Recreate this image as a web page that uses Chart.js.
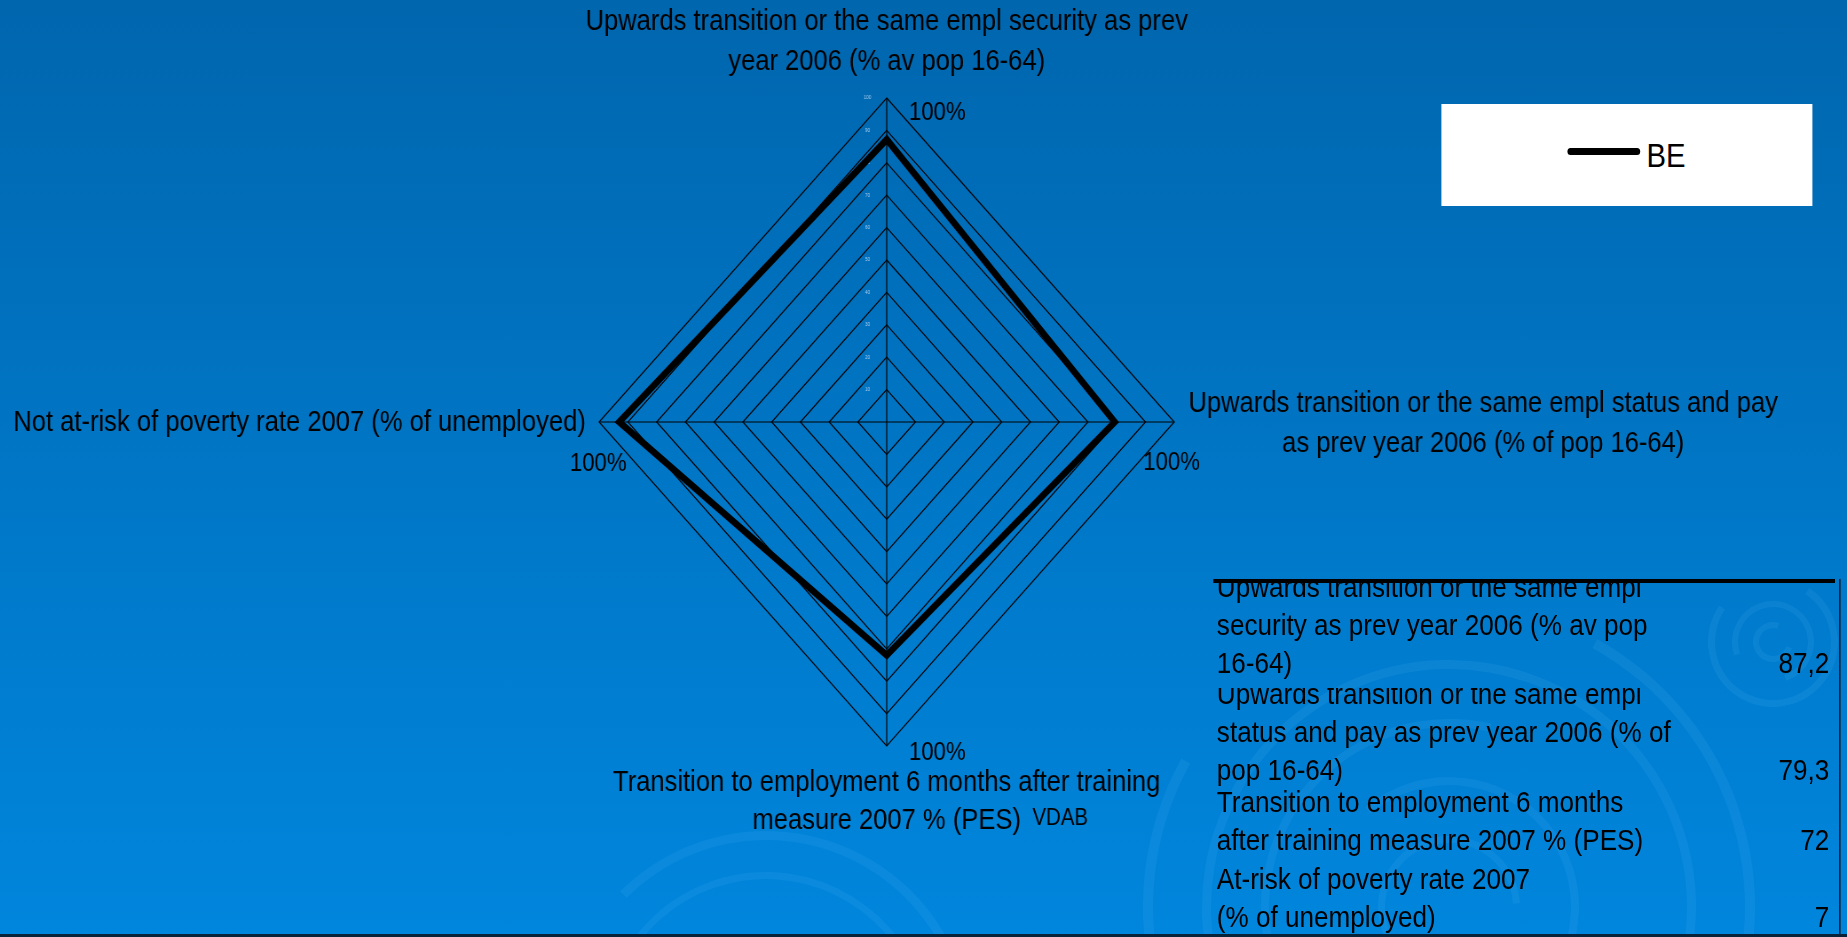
<!DOCTYPE html>
<html>
<head>
<meta charset="utf-8">
<script src="https://cdn.jsdelivr.net/npm/chart.js@4.4.1/dist/chart.umd.min.js"></script>
<style>
html, body { margin: 0; padding: 0; width: 1847px; height: 937px; overflow: hidden; }
body { background: linear-gradient(#0066ae, #0086dd); position: relative; }
.ring { position: absolute; border-radius: 50%; border-style: solid; border-color: rgba(110, 190, 255, 0.10); box-sizing: border-box; }
/* the whole slide is squeezed sideways, like the original picture */
#stage { position: absolute; left: 0; top: 0; width: 2081px; height: 937px;
  transform: scaleX(0.88756); transform-origin: 0 0;
  font-family: 'Liberation Sans', Arial, sans-serif; color: #000; }
#radar { position: absolute; left: 0; top: 0; }
#legend { position: absolute; left: 1624px; top: 104px; width: 418px; height: 102px; background: #fff; }
#legend .swatch { position: absolute; left: 142px; top: 44px; width: 82px; height: 7px; border-radius: 4px; background: #000; }
#legend .name { position: absolute; left: 231px; top: 35px; font-size: 33px; line-height: 1; }
#sep { position: absolute; left: 1367px; top: 579px; width: 701px; height: 4px; background: #000; }
#edge { position: absolute; left: 2072px; top: 579px; width: 2px; height: 356px; background: #0b2338; }
.row { position: absolute; left: 1371px; width: 690px; overflow: hidden; font-size: 29.4px; line-height: 38px; white-space: nowrap; }
.row .txt { position: absolute; left: 0; bottom: 0; }
.row .val { position: absolute; right: 0; bottom: 0; }
#bottomline { position: absolute; left: 0; bottom: 0; width: 1847px; height: 3px; background: #0b2338; }
</style>
</head>
<body>
<div id="deco"></div>
<div id="stage">
  <canvas id="radar" width="2081" height="937"></canvas>
  <div id="legend"><div class="swatch"></div><div class="name" id="legendName"></div></div>
  <div id="sep"></div>
  <div id="edge"></div>
  <div id="table"></div>
</div>
<div id="bottomline"></div>
<script>
const categories = [
    ['Upwards transition or the same empl security as prev', 'year 2006 (% av pop 16-64)'],
    ['Upwards transition or the same empl status and pay', 'as prev year 2006 (% of pop 16-64)'],
    ['Transition to employment 6 months after training', 'measure 2007 % (PES)'],
    ['Not at-risk of poverty rate 2007 (% of unemployed)']
];
const seriesName = 'BE';
const beValues = [87.2, 79.3, 72, 93];
const axisMaxLabel = '100%';
const sourceNote = 'VDAB';

const tableLabels = [
    ['Upwards transition or the same empl', 'security as prev year 2006 (% av pop', '16-64)'],
    ['Upwards transition or the same empl', 'status and pay as prev year 2006 (% of', 'pop 16-64)'],
    ['Transition to employment 6 months', 'after training measure 2007 % (PES)'],
    ['At-risk of poverty rate 2007', '(% of unemployed)']
];
const tableValues = ['87,2', '79,3', '72', '7'];

// faint swirl rings of the slide background: centre x, centre y, radius, width
const rings = [
    [766, 1037, 206, 9], [766, 1037, 165, 7],
    [1449, 907, 306, 10], [1449, 907, 247, 9], [1449, 907, 188, 8], [1449, 907, 130, 8], [1449, 907, 71, 7],
    [1773, 642, 65, 7], [1773, 642, 41, 6], [1773, 642, 20, 6]
];
const deco = document.getElementById('deco');
rings.forEach(([cx, cy, rad, bw], i) => {
    const d = document.createElement('div');
    d.className = 'ring';
    d.style.left = (cx - rad) + 'px';
    d.style.top = (cy - rad) + 'px';
    d.style.width = d.style.height = (2 * rad) + 'px';
    d.style.borderWidth = bw + 'px';
    if (i % 2) d.style.borderRightColor = 'transparent';
    else d.style.borderLeftColor = 'transparent';
    d.style.transform = 'rotate(' + (i * 37) + 'deg)';
    deco.appendChild(d);
});

// table rows: top and bottom of each clipped cell
const rowBoxes = [[582, 682], [688, 789], [789, 859], [859, 936]];
const table = document.getElementById('table');
tableLabels.forEach((lines, i) => {
    const row = document.createElement('div');
    row.className = 'row';
    row.style.top = rowBoxes[i][0] + 'px';
    row.style.height = (rowBoxes[i][1] - rowBoxes[i][0]) + 'px';
    const txt = document.createElement('div');
    txt.className = 'txt';
    txt.innerHTML = lines.join('<br>');
    const val = document.createElement('div');
    val.className = 'val';
    val.textContent = tableValues[i];
    row.appendChild(txt);
    row.appendChild(val);
    table.appendChild(row);
});
document.getElementById('legendName').textContent = seriesName;

const FONT = '"Liberation Sans", Arial, sans-serif';

// category titles and the 100% marks, placed from the scale's own vertices
const axisText = {
    id: 'axisText',
    afterDraw(chart) {
        const ctx = chart.ctx;
        const r = chart.scales.r;
        const labels = chart.data.labels;
        ctx.save();
        ctx.fillStyle = '#000';
        ctx.textBaseline = 'alphabetic';
        ctx.font = '28.8px ' + FONT;

        let p = r.getPointPosition(0, r.drawingArea);
        ctx.textAlign = 'center';
        labels[0].forEach((s, k) => ctx.fillText(s, p.x, p.y - 68 + k * 40));

        p = r.getPointPosition(1, r.drawingArea);
        const w1 = Math.max(...labels[1].map(s => ctx.measureText(s).width));
        labels[1].forEach((s, k) => ctx.fillText(s, p.x + 16 + w1 / 2, p.y - 10 + k * 40));

        p = r.getPointPosition(2, r.drawingArea);
        labels[2].forEach((s, k) => ctx.fillText(s, p.x, p.y + 45 + k * 38));
        const w2 = ctx.measureText(labels[2][1]).width;
        ctx.textAlign = 'left';
        ctx.font = '23px ' + FONT;
        ctx.fillText(sourceNote, p.x + w2 / 2 + 13, p.y + 79);

        p = r.getPointPosition(3, r.drawingArea);
        ctx.font = '28.8px ' + FONT;
        ctx.textAlign = 'right';
        ctx.fillText(labels[3][0], p.x - 15, p.y + 9);

        ctx.font = '25px ' + FONT;
        ctx.textAlign = 'left';
        const offs = [[25, 22], [-35, 48], [25, 14], [-33, 49]];
        offs.forEach((o, i) => {
            const q = r.getPointPosition(i, r.drawingArea);
            ctx.fillText(axisMaxLabel, q.x + o[0], q.y + o[1]);
        });
        ctx.restore();
    }
};

new Chart(document.getElementById('radar'), {
    type: 'radar',
    data: {
        labels: categories,
        datasets: [{
            label: seriesName,
            data: beValues,
            borderColor: '#000',
            backgroundColor: 'transparent',
            borderWidth: 7,
            pointRadius: 0,
            fill: false
        }]
    },
    options: {
        responsive: false,
        animation: false,
        devicePixelRatio: 1,
        layout: { padding: { left: 672, top: 95, right: 755, bottom: 188 } },
        plugins: {
            legend: { display: false },
            tooltip: { enabled: false }
        },
        scales: {
            r: {
                min: 0,
                max: 100,
                ticks: {
                    stepSize: 10,
                    showLabelBackdrop: false,
                    backdropPadding: 0,
                    color: '#a9cdee',
                    font: { size: 5 },
                    callback: v => v + ' '.repeat(31)
                },
                grid: { color: '#000', lineWidth: 1.2 },
                angleLines: { color: '#000', lineWidth: 1.2 },
                pointLabels: { display: false }
            }
        }
    },
    plugins: [axisText]
});
</script>
</body>
</html>
